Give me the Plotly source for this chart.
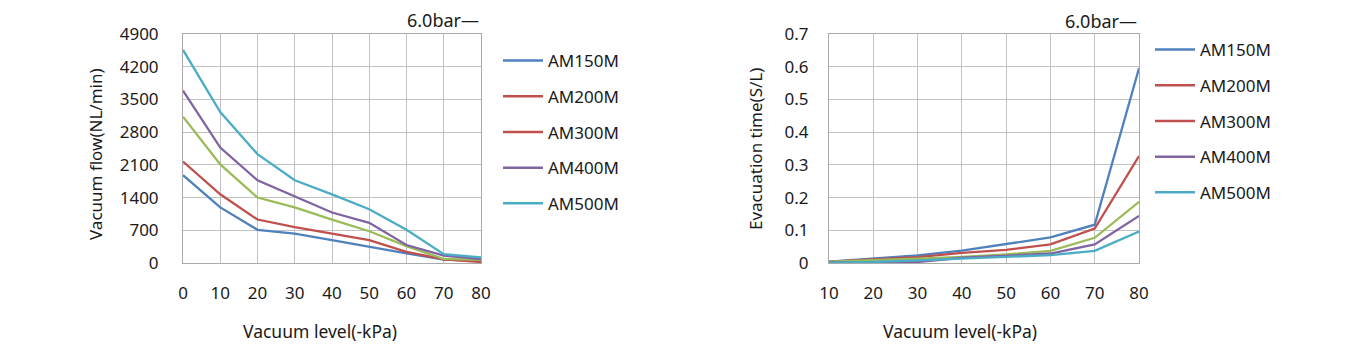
import plotly.graph_objects as go

# ---------------- data ----------------
series_names = ["AM150M", "AM200M", "AM300M", "AM400M", "AM500M"]
line_colors = ["#4F81BD", "#C0504D", "#9BBB59", "#8064A2", "#4BACC6"]
legend_colors = ["#4F81BD", "#C0504D", "#C0504D", "#8064A2", "#4BACC6"]

flow_x = [0, 10, 20, 30, 40, 50, 60, 70, 80]
flow_am150 = [1880, 1190, 710, 630, 490, 340, 205, 75, 45]
flow_am200 = [2170, 1470, 930, 770, 630, 490, 240, 80, 20]
flow_am300 = [3130, 2110, 1400, 1190, 930, 680, 360, 86, 65]
flow_am400 = [3690, 2470, 1770, 1420, 1080, 860, 385, 160, 85]
flow_am500 = [4560, 3230, 2330, 1770, 1470, 1150, 710, 190, 120]

evac_x = [10, 20, 30, 40, 50, 60, 70, 80]
evac_am150 = [0.004, 0.013, 0.023, 0.038, 0.057, 0.078, 0.117, 0.595]
evac_am200 = [0.004, 0.010, 0.018, 0.031, 0.040, 0.057, 0.105, 0.327]
evac_am300 = [0.004, 0.008, 0.013, 0.019, 0.026, 0.037, 0.077, 0.187]
evac_am400 = [0.002, 0.002, 0.003, 0.016, 0.022, 0.029, 0.057, 0.144]
evac_am500 = [0.001, 0.003, 0.008, 0.013, 0.018, 0.024, 0.037, 0.096]

flow_ticks = [0, 700, 1400, 2100, 2800, 3500, 4200, 4900]
evac_ticks = [0, 0.1, 0.2, 0.3, 0.4, 0.5, 0.6, 0.7]

flow_series = [flow_am150, flow_am200, flow_am300, flow_am400, flow_am500]
evac_series = [evac_am150, evac_am200, evac_am300, evac_am400, evac_am500]

# ---------------- figure ----------------
OFF = 8                      # default page (body) margin
W, H = 1353 - OFF, 356 - OFF
FONT = "Noto Sans"
TXT = "#1a1a1a"

fig = go.Figure()

for name, col, ys in zip(series_names, line_colors, flow_series):
    fig.add_trace(go.Scatter(x=flow_x, y=ys, mode="lines", name=name,
                             line=dict(color=col, width=2.3), showlegend=False,
                             xaxis="x", yaxis="y"))
for name, col, ys in zip(series_names, line_colors, evac_series):
    fig.add_trace(go.Scatter(x=evac_x, y=ys, mode="lines", name=name,
                             line=dict(color=col, width=2.3), showlegend=False,
                             xaxis="x2", yaxis="y2"))

# legend-only entries (legend colours as in the reference)
for i, (name, col) in enumerate(zip(series_names, legend_colors)):
    fig.add_trace(go.Scatter(x=[None], y=[None], mode="lines", name=name,
                             line=dict(color=col, width=2.5), legend="legend",
                             legendgroup=f"a{i}", xaxis="x", yaxis="y"))
for i, (name, col) in enumerate(zip(series_names, legend_colors)):
    fig.add_trace(go.Scatter(x=[None], y=[None], mode="lines", name=name,
                             line=dict(color=col, width=2.5), legend="legend2",
                             legendgroup=f"b{i}", xaxis="x2", yaxis="y2"))

def px_x(p):
    return (p - OFF) / W

def px_y(p):
    return 1 - (p - OFF) / H

grid = "#c2c2c2"
axis_common = dict(showgrid=True, gridcolor=grid, gridwidth=1, zeroline=False,
                   showline=True, linecolor="#aaaaaa", linewidth=1, mirror=True,
                   ticks="", automargin=False,
                   tickfont=dict(family=FONT, size=17, color=TXT))

fig.update_layout(
    width=W, height=H,
    margin=dict(l=0, r=0, t=0, b=0, autoexpand=False),
    paper_bgcolor="white", plot_bgcolor="white",
    font=dict(family=FONT, color=TXT),
    xaxis=dict(domain=[px_x(183), px_x(481)], range=[0, 80], tickvals=flow_x,
               anchor="y", ticklabelstandoff=15, **axis_common),
    yaxis=dict(domain=[px_y(263), px_y(34)], range=[0, 4900], tickvals=flow_ticks,
               anchor="x", ticklabelstandoff=20, **axis_common),
    xaxis2=dict(domain=[px_x(829), px_x(1139)], range=[10, 80], tickvals=evac_x,
                anchor="y2", ticklabelstandoff=15, **axis_common),
    yaxis2=dict(domain=[px_y(263), px_y(34)], range=[0, 0.7], tickvals=evac_ticks,
                anchor="x2", ticklabelstandoff=16, **axis_common),
    legend=dict(x=px_x(498), y=px_y(43), xanchor="left", yanchor="top",
                font=dict(family=FONT, size=17, color=TXT),
                tracegroupgap=10.6, bgcolor="rgba(0,0,0,0)", itemwidth=40),
    legend2=dict(x=px_x(1150), y=px_y(32), xanchor="left", yanchor="top",
                 font=dict(family=FONT, size=17, color=TXT),
                 tracegroupgap=10.6, bgcolor="rgba(0,0,0,0)", itemwidth=40),
    showlegend=True,
)

annots = [
    dict(text="6.0bar—", x=px_x(481), y=px_y(20), xanchor="right", yanchor="middle", size=18),
    dict(text="6.0bar—", x=px_x(1139), y=px_y(21), xanchor="right", yanchor="middle", size=18),
    dict(text="Vacuum level(-kPa)", x=px_x(320), y=px_y(331), xanchor="center", yanchor="middle", size=17.5),
    dict(text="Vacuum level(-kPa)", x=px_x(960), y=px_y(331), xanchor="center", yanchor="middle", size=17.5),
]
for a in annots:
    fig.add_annotation(text=a["text"], x=a["x"], y=a["y"], xref="paper", yref="paper",
                       xanchor=a["xanchor"], yanchor=a["yanchor"], showarrow=False,
                       font=dict(family=FONT, size=a["size"], color=TXT))

fig.add_annotation(text="Vacuum flow(NL/min)", x=px_x(95), y=px_y(154), xref="paper",
                   yref="paper", textangle=-90, showarrow=False, xanchor="center",
                   yanchor="middle", font=dict(family=FONT, size=17, color=TXT))
fig.add_annotation(text="Evacuation time(S/L)", x=px_x(755), y=px_y(149), xref="paper",
                   yref="paper", textangle=-90, showarrow=False, xanchor="center",
                   yanchor="middle", font=dict(family=FONT, size=17, color=TXT))

fig.write_html("out.html")
